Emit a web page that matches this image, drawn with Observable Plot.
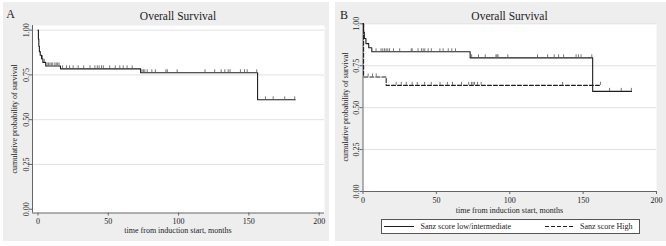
<!DOCTYPE html>
<html><head><meta charset="utf-8">
<script src="https://cdn.jsdelivr.net/npm/d3@7"></script>
<script src="https://cdn.jsdelivr.net/npm/@observablehq/plot@0.6"></script>
<style>
body{margin:0;background:#fff;}
#wrap{position:relative;width:666px;height:246px;overflow:hidden;font-family:"Liberation Serif","Times New Roman",serif;color:#222;}
.panel{position:absolute;background:#eeeeee;}
.panel svg{position:absolute;left:0;top:0;}
.lbl{position:absolute;white-space:nowrap;line-height:1;transform:translate(-50%,-50%);}
.rot{transform:translate(-50%,-50%) rotate(-90deg);}
</style></head>
<body><div id="wrap"></div>
<script>
// ---- data ----
const timeTicks = [0, 50, 100, 150, 200];
const survTicks = [0, 0.25, 0.5, 0.75, 1];
const survGrid = [0.25, 0.5, 0.75, 1];

const titleText = "Overall Survival";
const xLabel = "time from induction start, months";
const yLabel = "cumulative probability of survival";
const panelLetters = ["A", "B"];
const seriesNames = ["Sanz score low/intermediate", "Sanz score High"];

// Panel A: all patients
const aTimes = [0, 0.3, 0.6, 1, 1.6, 2.5, 3.5, 5.5, 16, 73, 156.2, 183];
const aSurv  = [1, 0.95, 0.91, 0.88, 0.86, 0.84, 0.82, 0.80, 0.784, 0.762, 0.611, 0.611];
const aCensor = [3.2, 4.5, 6.5, 7.5, 8.5, 9.5, 10.5, 12, 13, 14, 15, 17.5, 20.3, 22.5, 25, 28.6, 32.5, 37, 40.5, 42.2, 43.5, 45.2, 46.5, 51, 55, 58.2, 60.6, 63.4, 67, 74, 75, 76, 77.7, 81, 83.5, 91, 92, 99, 118.8, 125.7, 130.3, 132.9, 135.3, 136.6, 144, 146.9, 148.8, 155.6, 161.8, 167.3, 175.5, 182.6];

// Panel B: Sanz low/intermediate
const bLowTimes = [0, 0.4, 0.9, 2, 3.9, 6, 73, 156.5, 183];
const bLowSurv  = [1, 0.95, 0.912, 0.882, 0.857, 0.833, 0.797, 0.597, 0.597];
const bLowCensor = [8.9, 12.3, 13.5, 14.7, 15.8, 16.9, 18.1, 20.8, 25, 32.9, 33.5, 37.5, 39.8, 41, 42.1, 44.4, 46.6, 52.4, 54.6, 58.1, 60.5, 63, 74, 78.7, 83.3, 90.6, 91.3, 92, 98.7, 118.9, 125.8, 130.3, 133.3, 136.7, 145.2, 146.8, 148.6, 155.9, 168, 176, 182.9];

// Panel B: Sanz high
const bHighTimes = [0, 0.4, 15.8, 161.8];
const bHighSurv  = [1, 0.683, 0.633, 0.633];
const bHighCensor = [3.5, 6.5, 9, 22.6, 26.1, 29.5, 33.5, 37, 42, 46.5, 52.5, 57.5, 61, 67.1, 72, 74, 75, 76, 78, 80.5, 136, 161.8];

// ---- helpers ----
function stepAt(times, surv, t) {
  let s = surv[0];
  for (let i = 0; i < times.length; i++) if (times[i] <= t) s = surv[i];
  return s;
}

function km(o) {
  const marks = [
    Plot.frame({fill: "white", stroke: null}),
    Plot.gridY(o.grid, {stroke: "#e2e2e2", strokeOpacity: 1, strokeWidth: 1}),
    Plot.ruleX([o.xDomain[0]], {stroke: "#666", strokeWidth: 1}),
    Plot.ruleY([o.yDomain[0]], {stroke: "#666", strokeWidth: 1}),
    Plot.axisX({ticks: timeTicks, tickSize: 3, tickPadding: 2.5, stroke: "#666", fill: "#222", label: null, tickFormat: d3.format("d")}),
    Plot.axisY({ticks: survTicks, tickSize: 3, tickRotate: -90, tickPadding: 1, stroke: "#666", fill: "#222", label: null, tickFormat: d3.format(".2f")})
  ];
  const tickH = 3 * (o.yDomain[1] - o.yDomain[0]) / (o.height - o.mt - o.mb);
  for (const s of o.series) {
    const pts = s.times.map((t, i) => ({t, s: s.surv[i]}));
    marks.push(Plot.line(pts, {x: "t", y: "s", curve: "step-after", stroke: "#1e1e1e", strokeWidth: 1.1, strokeDasharray: s.dash}));
    const cens = s.censor.map(t => ({t, s: stepAt(s.times, s.surv, t)}));
    marks.push(Plot.ruleX(cens, {x: "t", y1: "s", y2: d => d.s + tickH, stroke: "#555", strokeWidth: 0.8}));
  }
  return Plot.plot({
    width: o.width, height: o.height,
    marginLeft: o.ml, marginRight: o.mr, marginTop: o.mt, marginBottom: o.mb,
    x: {domain: o.xDomain},
    y: {domain: o.yDomain},
    style: {background: "transparent", fontFamily: "'Liberation Serif', serif", fontSize: "8px", overflow: "visible"},
    marks
  });
}

const wrap = document.getElementById("wrap");
function addLabel(text, cx, cy, size, rotate) {
  const d = document.createElement("div");
  d.className = "lbl" + (rotate ? " rot" : "");
  d.style.left = cx + "px"; d.style.top = cy + "px"; d.style.fontSize = size + "px";
  d.textContent = text;
  wrap.appendChild(d);
}

// ---- panel A ----
const pA = document.createElement("div");
pA.className = "panel";
Object.assign(pA.style, {left: "3px", top: "2px", width: "326px", height: "239px"});
wrap.appendChild(pA);
pA.appendChild(km({
  width: 326, height: 239, ml: 29, mr: 5, mt: 23, mb: 28.5,
  xDomain: [-3.9, 203.8], yDomain: [-0.021, 1.026], grid: survGrid,
  series: [{times: aTimes, surv: aSurv, censor: aCensor, dash: null}]
}));
addLabel(panelLetters[0], 10.5, 14, 12);
addLabel(titleText, 178, 17, 11.5);
addLabel(xLabel, 178, 231, 8);
addLabel(yLabel, 15, 118.7, 8, true);

// ---- panel B ----
const pB = document.createElement("div");
pB.className = "panel";
Object.assign(pB.style, {left: "335px", top: "2px", width: "331px", height: "239px"});
wrap.appendChild(pB);
pB.appendChild(km({
  width: 331, height: 239, ml: 27.5, mr: 10, mt: 21.3, mb: 50,
  xDomain: [0, 200], yDomain: [0, 1], grid: survGrid,
  series: [
    {times: bLowTimes, surv: bLowSurv, censor: bLowCensor, dash: null},
    {times: bHighTimes, surv: bHighSurv, censor: bHighCensor, dash: "4,2"}
  ]
}));
addLabel(panelLetters[1], 344, 14.5, 12);
addLabel(titleText, 509.5, 16.7, 11.5);
addLabel(xLabel, 509.5, 210.5, 8);
addLabel(yLabel, 345.7, 107, 8, true);

// legend
const leg = document.createElementNS("http://www.w3.org/2000/svg", "svg");
leg.setAttribute("width", 259); leg.setAttribute("height", 15);
Object.assign(leg.style, {position: "absolute", left: "380.5px", top: "218.5px"});
leg.innerHTML =
  `<rect x="0.5" y="0.5" width="258" height="14" fill="white" stroke="#555" stroke-width="1"/>` +
  `<line x1="3" x2="33" y1="7.5" y2="7.5" stroke="#1e1e1e" stroke-width="1"/>` +
  `<text x="39.5" y="10.2" font-size="8" font-family="'Liberation Serif', serif" fill="#222">${seriesNames[0]}</text>` +
  `<line x1="164" x2="194" y1="7.5" y2="7.5" stroke="#1e1e1e" stroke-width="1" stroke-dasharray="4,2"/>` +
  `<text x="199" y="10.2" font-size="8" font-family="'Liberation Serif', serif" fill="#222">${seriesNames[1]}</text>`;
wrap.appendChild(leg);
</script>
</body></html>
